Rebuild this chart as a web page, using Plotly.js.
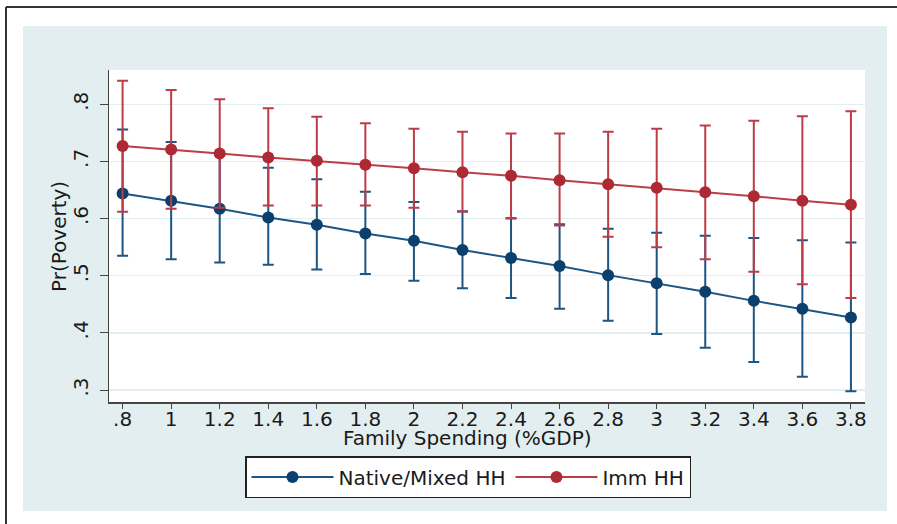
<!DOCTYPE html>
<html>
<head>
<meta charset="utf-8">
<script src="https://cdn.plot.ly/plotly-3.0.1.min.js"></script>
<style>html,body{margin:0;padding:0;background:#fff;}#chart{width:897px;height:524px;}</style>
</head>
<body>
<div id="chart"></div>
<script>
// Family spending (%GDP)
const spending = [0.8, 1.0, 1.2, 1.4, 1.6, 1.8, 2.0, 2.2, 2.4, 2.6, 2.8, 3.0, 3.2, 3.4, 3.6, 3.8];
const xTickLabels = [".8", "1", "1.2", "1.4", "1.6", "1.8", "2", "2.2", "2.4", "2.6", "2.8", "3", "3.2", "3.4", "3.6", "3.8"];
const yTickVals = [0.3, 0.4, 0.5, 0.6, 0.7, 0.8];
const yTickLabels = [".3", ".4", ".5", ".6", ".7", ".8"];

// Native/Mixed HH
const nativeP  = [0.644, 0.631, 0.617, 0.602, 0.589, 0.574, 0.561, 0.545, 0.531, 0.517, 0.501, 0.487, 0.472, 0.456, 0.442, 0.427];
const nativeHi = [0.756, 0.734, 0.711, 0.689, 0.669, 0.647, 0.629, 0.613, 0.600, 0.590, 0.582, 0.575, 0.570, 0.566, 0.562, 0.558];
const nativeLo = [0.535, 0.529, 0.523, 0.519, 0.511, 0.503, 0.491, 0.478, 0.461, 0.442, 0.421, 0.398, 0.374, 0.349, 0.323, 0.298];

// Imm HH
const immP  = [0.727, 0.721, 0.714, 0.707, 0.701, 0.694, 0.688, 0.681, 0.675, 0.667, 0.660, 0.654, 0.646, 0.639, 0.631, 0.624];
const immHi = [0.841, 0.825, 0.809, 0.793, 0.778, 0.767, 0.757, 0.752, 0.749, 0.749, 0.752, 0.757, 0.763, 0.771, 0.779, 0.788];
const immLo = [0.612, 0.617, 0.619, 0.623, 0.623, 0.623, 0.619, 0.612, 0.601, 0.588, 0.568, 0.550, 0.529, 0.507, 0.485, 0.461];

const blueM = '#0b3f6e', blueL = '#1d5585';
const redM = '#ad2a35', redL = '#bd3d47';

function mkTrace(name, p, hi, lo, mc, lc) {
  return {
    type: 'scatter', mode: 'lines+markers', name: name,
    x: spending, y: p,
    line: {color: lc, width: 2},
    marker: {color: mc, size: 12, line: {width: 0}},
    error_y: {
      type: 'data', symmetric: false,
      array: hi.map((v, i) => v - p[i]),
      arrayminus: p.map((v, i) => v - lo[i]),
      color: lc, thickness: 2, width: 5.5
    }
  };
}

const traces = [
  mkTrace('Native/Mixed HH', nativeP, nativeHi, nativeLo, blueM, blueL),
  mkTrace('Imm HH', immP, immHi, immLo, redM, redL)
];

const L = 109, R = 865, T = 70, B = 402, W = 897, H = 524;
const pw = R - L, ph = B - T;
const px = v => (v - L) / pw;
const py = v => (B - v) / ph;
const txt = {family: 'DejaVu Sans', size: 20, color: '#1a1a1a'};

const layout = {
  width: W, height: H,
  margin: {l: L, r: W - R, t: T, b: H - B, pad: 0},
  paper_bgcolor: '#ffffff', plot_bgcolor: '#ffffff',
  font: txt,
  showlegend: true,
  legend: {
    orientation: 'h', x: px(468), xanchor: 'center', y: py(456), yanchor: 'top',
    bgcolor: '#ffffff', bordercolor: '#222', borderwidth: 1.5,
    font: txt, itemwidth: 82, tracegroupgap: 0
  },
  xaxis: {
    range: [0.744, 3.858], tickmode: 'array', tickvals: spending, ticktext: xTickLabels,
    ticks: 'outside', ticklen: 5, tickwidth: 1, tickcolor: '#444',
    ticklabelstandoff: -7,
    showgrid: false, zeroline: false, showline: true, linecolor: '#444', linewidth: 1.5,
    tickfont: txt
  },
  yaxis: {
    range: [0.279, 0.860], tickmode: 'array', tickvals: yTickVals, ticktext: yTickLabels,
    tickangle: -90,
    ticks: 'outside', ticklen: 8, tickwidth: 1, tickcolor: '#444',
    ticklabelstandoff: 4,
    showgrid: true, gridcolor: '#e3eef0', gridwidth: 1.5,
    zeroline: false, showline: true, linecolor: '#444', linewidth: 1.5,
    tickfont: txt
  },
  shapes: [
    {type: 'rect', xref: 'paper', yref: 'paper', layer: 'below',
     x0: px(23), x1: px(887), y0: py(511), y1: py(26),
     fillcolor: '#e3eef0', line: {width: 0}},
    {type: 'rect', xref: 'paper', yref: 'paper', layer: 'below',
     x0: 0, x1: 1, y0: 0, y1: 1, fillcolor: '#ffffff', line: {width: 0}},
    {type: 'line', xref: 'paper', yref: 'paper', x0: px(6), x1: px(6), y0: py(7), y1: py(530),
     line: {color: '#333', width: 2}},
    {type: 'line', xref: 'paper', yref: 'paper', x0: px(6), x1: px(900), y0: py(7), y1: py(7),
     line: {color: '#333', width: 2}}
  ],
  annotations: [
    {text: 'Family Spending (%GDP)', xref: 'paper', yref: 'paper', x: px(467), y: py(437.5),
     xanchor: 'center', yanchor: 'middle', showarrow: false, font: txt},
    {text: 'Pr(Poverty)', xref: 'paper', yref: 'paper', x: px(59), y: py(237), textangle: -90,
     xanchor: 'center', yanchor: 'middle', showarrow: false, font: txt}
  ]
};

Plotly.newPlot('chart', traces, layout, {displayModeBar: false, staticPlot: true});
</script>
</body>
</html>
